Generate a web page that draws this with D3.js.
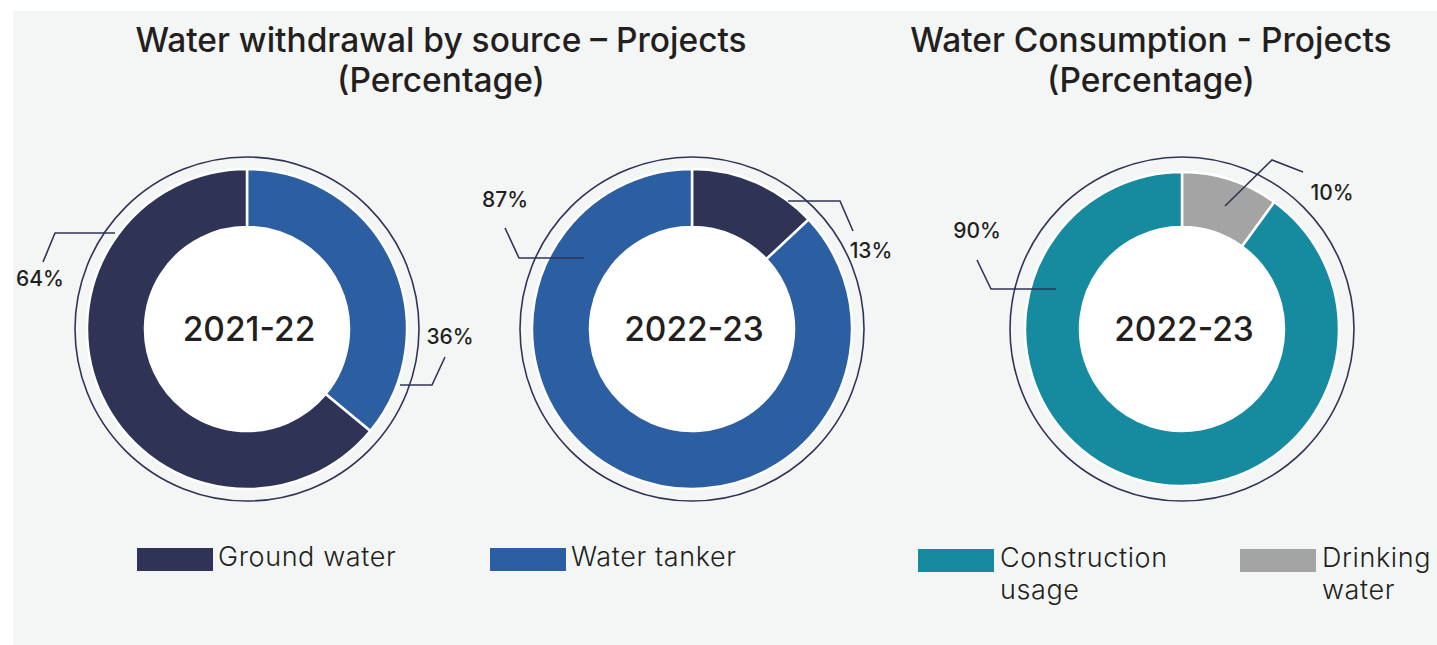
<!DOCTYPE html>
<html>
<head>
<meta charset="utf-8">
<script src="https://cdn.jsdelivr.net/npm/d3@7"></script>
<style>
  html, body { margin: 0; padding: 0; background: #ffffff; }
  svg { display: block; }
  text { font-family: Inter, "Open Sans", sans-serif; fill: #231f20; }
</style>
</head>
<body>
<svg id="chart" width="1437" height="645"></svg>
<script>
// ---- data ----
const withdrawalSources = ["Water tanker", "Ground water"];
const withdrawal2122 = [36, 64];
const withdrawal2223Sources = ["Ground water", "Water tanker"];
const withdrawal2223 = [13, 87];
const consumptionUses = ["Drinking water", "Construction usage"];
const consumption2223 = [10, 90];
const periods = ["2021-22", "2022-23", "2022-23"];
const titles = [
  ["Water withdrawal by source \u2013 Projects", "(Percentage)"],
  ["Water Consumption - Projects", "(Percentage)"]
];
const legendWithdrawal = ["Ground water", "Water tanker"];
const legendConsumption = [["Construction", "usage"], ["Drinking", "water"]];

// ---- styling ----
const colour = d3.scaleOrdinal()
  .domain(["Ground water", "Water tanker", "Construction usage", "Drinking water"])
  .range(["#2f3457", "#2c5ea2", "#168ba0", "#a4a4a4"]);

const svg = d3.select("#chart");
svg.append("rect").attr("x", 13).attr("y", 11).attr("width", 1437 - 13).attr("height", 645 - 11)
  .attr("fill", "#f4f6f6");

// donut layouts with leader-line offsets (relative to centre) for each slice
const donuts = [
  { cx: 247, cy: 329, r: 160, keys: withdrawalSources, values: withdrawal2122, label: periods[0],
    leaders: [
      { pts: [[153, 56], [185, 56], [198, 28]], text: [203, 7] },
      { pts: [[-132, -96], [-192, -96], [-204, -67]], text: [-207, -51] }
    ] },
  { cx: 692, cy: 329, r: 160, keys: withdrawal2223Sources, values: withdrawal2223, label: periods[1],
    leaders: [
      { pts: [[96, -128], [148, -128], [161, -98]], text: [179, -79] },
      { pts: [[-108, -71], [-173, -71], [-187, -101]], text: [-187, -130] }
    ] },
  { cx: 1182, cy: 329, r: 157, keys: consumptionUses, values: consumption2223, label: periods[2],
    leaders: [
      { pts: [[43, -123], [90, -169], [121, -157]], text: [150, -137] },
      { pts: [[-126, -40], [-191, -40], [-205, -69]], text: [-205, -99] }
    ] }
];

const pie = d3.pie().sort(null).value(d => d.value);

donuts.forEach(dn => {
  const g = svg.append("g").attr("transform", `translate(${dn.cx},${dn.cy})`);
  const slices = pie(dn.keys.map((k, i) => ({ key: k, value: dn.values[i] })));
  const arc = d3.arc().innerRadius(102).outerRadius(dn.r);

  // outer guide ring
  g.append("circle").attr("r", 172).attr("fill", "none")
    .attr("stroke", "#2f3457").attr("stroke-width", 1.6);

  g.selectAll("path.slice").data(slices).join("path")
    .attr("class", "slice")
    .attr("d", arc)
    .attr("fill", d => colour(d.data.key))
    .attr("stroke", "#ffffff").attr("stroke-width", 2.5);

  g.append("circle").attr("r", 101).attr("fill", "#ffffff");

  g.append("text").attr("text-anchor", "middle").attr("dy", "0.36em")
    .attr("x", 2).attr("font-size", 33.5).attr("font-weight", 500)
    .text(dn.label);

  slices.forEach((s, i) => {
    const L = dn.leaders[i];
    g.append("polyline").attr("points", L.pts.map(p => p.join(",")).join(" "))
      .attr("fill", "none").attr("stroke", "#2f3457").attr("stroke-width", 1.6);
    g.append("text").attr("x", L.text[0]).attr("y", L.text[1]).attr("dy", "0.36em")
      .attr("text-anchor", "middle").attr("font-size", 21).attr("font-weight", 500)
      .text(`${s.data.value}%`);
  });
});

// titles
const titleX = [441, 1151];
titles.forEach((lines, i) => {
  lines.forEach((t, j) => {
    svg.append("text").attr("x", titleX[i]).attr("y", 52 + j * 40)
      .attr("text-anchor", "middle").attr("font-size", 33.5).attr("font-weight", 500)
      .text(t);
  });
});

// legends
const legendPos = [[137, 548], [490, 548]];
legendWithdrawal.forEach((k, i) => {
  const [x, y] = legendPos[i];
  svg.append("rect").attr("x", x).attr("y", y).attr("width", 76).attr("height", 23).attr("fill", colour(k));
  svg.append("text").attr("x", x + 81).attr("y", y + 18).attr("font-size", 27).attr("font-weight", 300)
    .attr("letter-spacing", 0.6).attr("fill", "#2b2b2b").text(k);
});
const legendPos2 = [[918, 549], [1240, 549]];
const legendKeys2 = ["Construction usage", "Drinking water"];
legendConsumption.forEach((lines, i) => {
  const [x, y] = legendPos2[i];
  svg.append("rect").attr("x", x).attr("y", y).attr("width", 76).attr("height", 23).attr("fill", colour(legendKeys2[i]));
  lines.forEach((t, j) => {
    svg.append("text").attr("x", x + 82).attr("y", y + 18 + j * 32).attr("font-size", 27).attr("font-weight", 300)
      .attr("letter-spacing", 0.6).attr("fill", "#2b2b2b").text(t);
  });
});
</script>
</body>
</html>
